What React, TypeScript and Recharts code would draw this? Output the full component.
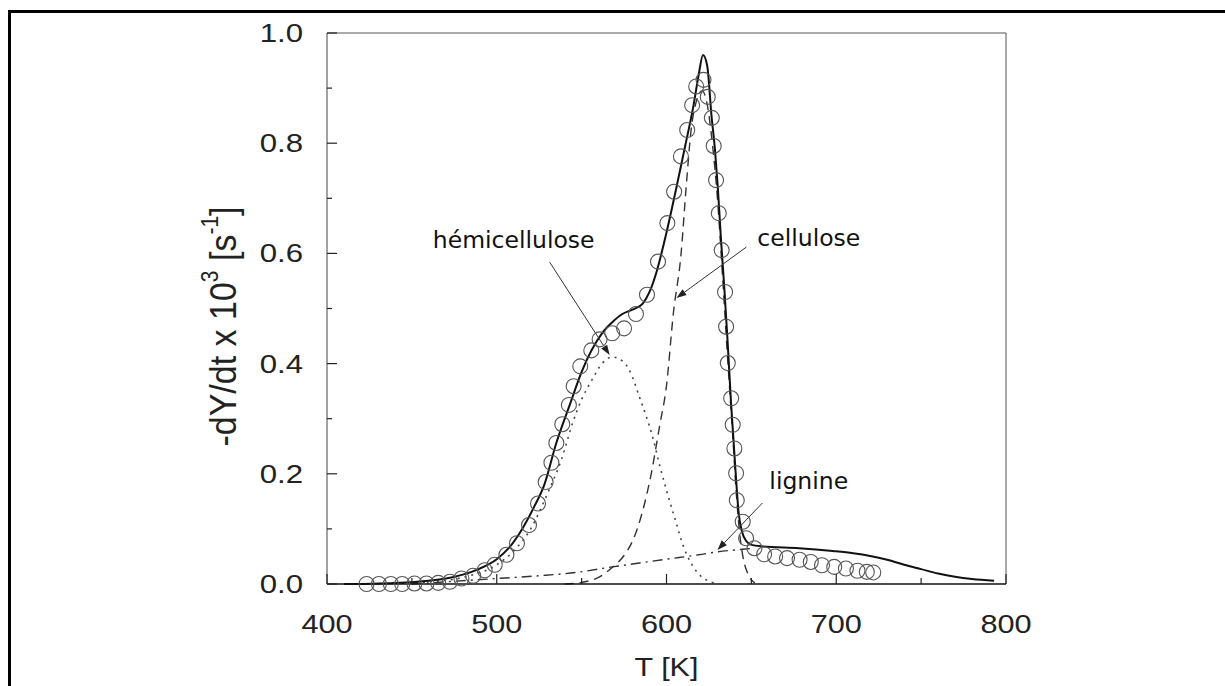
import { LineChart, Line, XAxis, YAxis, ReferenceLine, ReferenceDot } from "recharts";

// experimental points (circles)
const expT = [
  423.3, 430.6, 437.6, 444.3, 451.5, 458.6, 465.5, 472.4, 479.2, 486.1, 492.9, 498.8, 505.7, 511.9,
  519.0, 524.3, 528.8, 532.2, 535.1, 538.6, 542.5, 545.3, 549.2, 555.7, 560.6, 568.0, 575.0, 582.0,
  588.5, 595.0, 600.5, 604.5, 608.5, 612.2, 615.1, 617.5, 621.8, 624.3, 626.7, 627.8, 629.2, 630.8,
  632.5, 634.5, 635.1, 636.1, 638.1, 639.0, 640.0, 641.0, 641.4, 644.9, 646.9, 651.8, 657.5, 664.0,
  671.0, 678.4, 685.0, 691.6, 698.8, 705.7, 712.5, 718.0, 721.8,
];
const expV = [
  0.0, 0.0, 0.0, 0.0, 0.001, 0.001, 0.002, 0.004, 0.01, 0.015, 0.025, 0.035, 0.053, 0.074,
  0.107, 0.146, 0.185, 0.22, 0.256, 0.29, 0.325, 0.359, 0.395, 0.424, 0.444, 0.455, 0.464, 0.49,
  0.525, 0.585, 0.655, 0.712, 0.776, 0.824, 0.869, 0.903, 0.915, 0.884, 0.846, 0.795, 0.733, 0.673,
  0.606, 0.53, 0.467, 0.401, 0.337, 0.289, 0.246, 0.201, 0.152, 0.113, 0.083, 0.065, 0.054, 0.05,
  0.047, 0.044, 0.04, 0.034, 0.031, 0.028, 0.024, 0.022, 0.021,
];

// model (solid)
const modelT = [
  410, 440, 460, 470, 480, 490, 500, 507, 515, 522, 528, 535, 543, 550, 556, 562, 568, 574, 580,
  586, 590, 594, 600, 606, 611, 616, 619, 621.5, 624, 626.5, 628.5, 630.2, 632, 634, 636, 638,
  639.5, 641, 642.5, 644.5, 647, 650, 657, 678, 698, 710, 720, 730, 740, 750, 760, 770, 780, 793,
];
const modelV = [
  0.0, 0.002, 0.006, 0.01, 0.017, 0.028, 0.045, 0.065, 0.1, 0.14, 0.18, 0.255, 0.325, 0.385,
  0.425, 0.455, 0.475, 0.49, 0.498, 0.509, 0.53, 0.565, 0.638, 0.722, 0.795, 0.87, 0.925, 0.96,
  0.94, 0.85, 0.79, 0.721, 0.63, 0.54, 0.44, 0.33, 0.26, 0.19, 0.129, 0.095, 0.078, 0.071, 0.068,
  0.065, 0.06, 0.056, 0.051, 0.044, 0.035, 0.027, 0.019, 0.013, 0.009, 0.006,
];

// hémicellulose (dotted)
const hemiT = [440, 460, 480, 500, 510, 520, 530, 538, 545, 550, 556, 562, 568, 575, 580, 584, 588, 592, 596, 600, 605, 610, 615, 620, 625, 630];
const hemiV = [0.001, 0.004, 0.012, 0.035, 0.06, 0.1, 0.165, 0.225, 0.295, 0.335, 0.37, 0.4, 0.412, 0.402, 0.375, 0.34, 0.305, 0.265, 0.215, 0.17, 0.118, 0.068, 0.035, 0.015, 0.005, 0.001];

// cellulose (dashed)
const celT = [540, 550, 560, 568, 576, 580, 585, 591, 596, 600, 604, 608.6, 611.6, 614.5, 618, 621, 624, 627, 630, 633, 636, 639, 641, 643, 645, 648, 652];
const celV = [0.0, 0.003, 0.012, 0.03, 0.056, 0.078, 0.122, 0.2, 0.288, 0.36, 0.49, 0.6, 0.721, 0.824, 0.88, 0.895, 0.87, 0.8, 0.7, 0.56, 0.41, 0.27, 0.17, 0.095, 0.05, 0.018, 0.002];

// lignine (dash-dot)
const ligT = [450, 470, 500, 525, 547, 568, 584, 600, 619, 629, 645, 652];
const ligV = [0.0, 0.004, 0.01, 0.015, 0.021, 0.031, 0.038, 0.045, 0.053, 0.058, 0.063, 0.065];

const xTicks = [400, 450, 500, 550, 600, 650, 700, 750, 800];
const yTicks = [0, 0.1, 0.2, 0.3, 0.4, 0.5, 0.6, 0.7, 0.8, 0.9, 1.0];

// annotations: label anchor and arrow in data units
const labels = [
  { text: "hémicellulose", t: 557.6, v: 0.61, anchor: "end" },
  { text: "cellulose", t: 653.5, v: 0.614, anchor: "start" },
  { text: "lignine", t: 660.6, v: 0.1724, anchor: "start" },
];
const arrows = [
  { from: { x: 531.2, y: 0.584 }, to: { x: 566.5, y: 0.4156 } },
  { from: { x: 647.1, y: 0.6116 }, to: { x: 605.9, y: 0.519 } },
  { from: { x: 656.5, y: 0.147 }, to: { x: 630.0, y: 0.0617 } },
];

const pts = (ts: number[], vs: number[]) => ts.map((t, i) => ({ t, v: vs[i] }));

const SANS = "'Liberation Sans', Arial, sans-serif";
const ANNOT = "'DejaVu Sans', Verdana, sans-serif";

function XTick({ x, y, payload }: any) {
  const major = payload.value % 100 === 0;
  return (
    <g>
      <line x1={x} y1={y} x2={x} y2={y - (major ? 10 : 6)} stroke="#222" strokeWidth={1.2} />
      {major && (
        <text transform={`translate(${x},${y + 49}) scale(1.18,1)`} textAnchor="middle" fontSize={26} fontFamily={SANS} fill="#222">
          {payload.value}
        </text>
      )}
    </g>
  );
}

function YTick({ x, y, payload }: any) {
  const major = Math.round(payload.value * 10) % 2 === 0;
  return (
    <g>
      <line x1={x} y1={y} x2={x + (major ? 10 : 5)} y2={y} stroke="#222" strokeWidth={1.2} />
      {major && (
        <text transform={`translate(${x - 24},${y + 9}) scale(1.2,1)`} textAnchor="end" fontSize={26} fontFamily={SANS} fill="#222">
          {payload.value.toFixed(1)}
        </text>
      )}
    </g>
  );
}

function YTitle({ viewBox }: any) {
  const cx = viewBox.x + viewBox.width - 104;
  const cy = viewBox.y + viewBox.height / 2 + 18;
  return (
    <text
      transform={`translate(${cx},${cy}) scale(1.1,1) rotate(-90)`}
      textAnchor="middle"
      dominantBaseline="central"
      fontSize={34}
      fontFamily={SANS}
      fill="#222"
    >
      -dY/dt x 10<tspan fontSize={21} dy={-12}>3</tspan>
      <tspan dy={12}> [s</tspan>
      <tspan fontSize={21} dy={-12}>-1</tspan>
      <tspan dy={12}>]</tspan>
    </text>
  );
}

function XTitle({ viewBox }: any) {
  const cx = viewBox.x + viewBox.width / 2;
  return (
    <text transform={`translate(${cx},${viewBox.y + 92}) scale(1.22,1)`} textAnchor="middle" fontSize={25} fontFamily={SANS} fill="#222">
      T [K]
    </text>
  );
}

function Arrow(props: any) {
  const { x1, y1, x2, y2 } = props;
  const a = Math.atan2(y2 - y1, x2 - x1);
  const L = 10;
  const W = 3.5;
  const bx = x2 - L * Math.cos(a);
  const by = y2 - L * Math.sin(a);
  const p1 = `${bx + W * Math.sin(a)},${by - W * Math.cos(a)}`;
  const p2 = `${bx - W * Math.sin(a)},${by + W * Math.cos(a)}`;
  return (
    <g>
      <line x1={x1} y1={y1} x2={bx} y2={by} stroke="#333" strokeWidth={1} />
      <polygon points={`${x2},${y2} ${p1} ${p2}`} fill="#222" />
    </g>
  );
}

export default function App() {
  return (
    <div style={{ position: "fixed", left: 0, top: 0, width: 1225, height: 686, overflow: "hidden", background: "#fff" }}>
      <div
        style={{
          position: "absolute",
          left: 8,
          top: 10,
          width: 1400,
          height: 900,
          borderLeft: "3px solid #000",
          borderTop: "3px solid #000",
        }}
      />
      <div style={{ position: "absolute", left: 0, top: 0 }}>
        <LineChart width={1225} height={686} margin={{ top: 33, right: 219, bottom: 0, left: 0 }}>
          <XAxis
            dataKey="t"
            type="number"
            domain={[400, 800]}
            ticks={xTicks}
            interval={0}
            tickSize={0}
            tickMargin={0}
            tick={<XTick />}
            axisLine={{ stroke: "#111", strokeWidth: 1.6 }}
            height={102}
            label={<XTitle />}
          />
          <YAxis
            type="number"
            domain={[0, 1]}
            ticks={yTicks}
            interval={0}
            tickSize={0}
            tickMargin={0}
            tick={<YTick />}
            axisLine={{ stroke: "#444", strokeWidth: 1 }}
            width={327}
            label={<YTitle />}
          />
          <ReferenceLine y={1} stroke="#555" strokeWidth={1} />
          <ReferenceLine x={800} stroke="#555" strokeWidth={1} />
          <Line
            data={pts(expT, expV)}
            dataKey="v"
            stroke="none"
            dot={{ r: 7.5, stroke: "#555", strokeWidth: 1.1, fill: "none" }}
            isAnimationActive={false}
          />
          <Line data={pts(hemiT, hemiV)} dataKey="v" type="monotone" stroke="#444" strokeWidth={1.6} strokeDasharray="2 5" dot={false} isAnimationActive={false} />
          <Line data={pts(celT, celV)} dataKey="v" type="monotone" stroke="#333" strokeWidth={1.4} strokeDasharray="9 6" dot={false} isAnimationActive={false} />
          <Line data={pts(ligT, ligV)} dataKey="v" type="monotone" stroke="#333" strokeWidth={1.4} strokeDasharray="10 5 2 5" dot={false} isAnimationActive={false} />
          <Line data={pts(modelT, modelV)} dataKey="v" type="monotone" stroke="#111" strokeWidth={2} dot={false} isAnimationActive={false} />
          {arrows.map((a, i) => (
            <ReferenceLine key={`a${i}`} segment={[a.from, a.to]} shape={Arrow} />
          ))}
          {labels.map((l) => (
            <ReferenceDot
              key={l.text}
              x={l.t}
              y={l.v}
              r={1}
              shape={(p: any) => (
                <text x={p.cx} y={p.cy} textAnchor={l.anchor as any} fontSize={23.5} fontFamily={ANNOT} fill="#111">
                  {l.text}
                </text>
              )}
            />
          ))}
        </LineChart>
      </div>
    </div>
  );
}
